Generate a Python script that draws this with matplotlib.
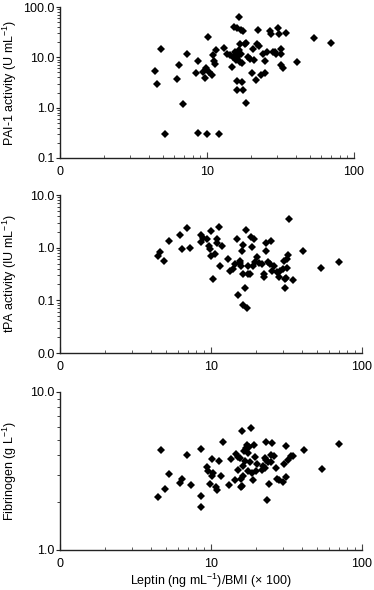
import matplotlib
matplotlib.use('Agg')
import matplotlib.pyplot as plt
from matplotlib.ticker import LogLocator, NullFormatter

plt.rcParams['font.family'] = ['Liberation Sans', 'DejaVu Sans']
plt.rcParams['mathtext.default'] = 'regular'

# Leptin/BMI (x100) vs PAI-1 activity (U/mL)
pai_x = [4.42, 4.58, 4.88, 5.22, 6.21, 6.44, 6.89, 7.26, 8.48, 8.62, 8.62, 9.32, 9.62, 9.77,
         10.0, 10.2, 10.35, 10.8, 10.9, 11.1, 11.3, 11.5, 12.0, 13.0, 13.6, 14.3, 14.8, 15.1,
         15.3, 15.5, 15.9, 16.0, 16.4, 16.0, 16.0, 17.0, 16.5, 16.7, 17.2, 17.4, 17.6, 17.6,
         18.1, 18.4, 18.5, 19.1, 19.5, 20.1, 20.6, 20.8, 21.5, 21.8, 22.3, 22.6, 23.2, 24.1,
         24.7, 25.4, 24.7, 27.0, 27.3, 27.9, 28.9, 29.7, 30.3, 31.1, 32.1, 32.1, 32.1, 32.9,
         34.7, 40.8, 53.5, 69.4, 16.2, 16.8, 15.7, 17.0]
pai_y = [5.3, 3.0, 14.5, 0.30, 3.7, 7.0, 1.2, 11.4, 4.8, 8.4, 0.31, 5.2, 3.9, 6.0,
         0.30, 25.5, 5.0, 4.45, 11.1, 8.4, 7.5, 13.9, 0.30, 15.5, 11.9, 10.9, 6.5, 10.3,
         40.0, 12.9, 9.5, 38.5, 63.0, 3.4, 2.2, 34.6, 13.9, 18.0, 7.6, 3.3, 2.2, 33.0,
         18.0, 1.21, 19.4, 10.3, 9.2, 4.95, 14.5, 8.8, 3.55, 18.8, 35.6, 16.9, 4.4, 11.4,
         8.4, 12.9, 4.95, 33.0, 29.7, 12.5, 12.5, 11.9, 38.5, 29.7, 14.5, 11.6, 7.0, 6.0,
         31.0, 7.9, 24.4, 19.4, 11.0, 7.9, 8.8, 11.6]

# Leptin/BMI vs tPA activity (IU/mL)
tpa_x = [4.44, 4.56, 4.92, 5.31, 6.28, 6.44, 6.95, 7.28, 8.61, 8.61, 8.87, 9.38, 9.63, 9.82,
         10.0, 10.0, 10.3, 10.7, 10.9, 10.9, 11.3, 11.5, 11.9, 13.0, 13.4, 13.9, 14.4, 14.8,
         15.1, 15.5, 15.6, 15.8, 16.0, 16.2, 16.3, 16.4, 16.8, 17.0, 17.3, 17.5, 17.7, 18.0,
         18.4, 18.8, 19.1, 19.4, 19.6, 20.1, 20.7, 21.7, 22.3, 22.6, 23.1, 23.2, 23.9, 24.7,
         24.9, 25.3, 26.0, 27.3, 28.0, 28.7, 29.9, 30.5, 31.0, 31.0, 31.5, 31.8, 31.8, 32.2,
         33.0, 34.9, 40.6, 53.5, 70.0]
tpa_y = [0.71, 0.84, 0.57, 1.35, 1.73, 0.95, 2.39, 0.98, 1.73, 1.28, 1.52, 1.48, 1.09, 0.93,
         2.07, 0.69, 0.25, 0.76, 1.20, 1.45, 2.50, 0.45, 1.06, 0.61, 0.36, 0.39, 0.50, 1.45,
         0.125, 0.52, 0.55, 0.45, 0.87, 1.10, 0.080, 0.32, 0.175, 2.13, 0.071, 0.45, 0.32, 0.31,
         1.57, 1.01, 0.45, 1.48, 0.54, 0.67, 0.52, 0.49, 0.28, 0.32, 1.20, 0.87, 0.53, 0.49,
         1.33, 0.36, 0.45, 0.35, 0.28, 0.36, 0.39, 0.56, 0.25, 0.168, 0.26, 0.615, 0.41, 0.73,
         3.55, 0.24, 0.87, 0.41, 0.54]

# Leptin/BMI vs fibrinogen (g/L)
fib_x = [4.49, 4.66, 4.95, 5.31, 6.25, 6.41, 6.95, 7.32, 8.65, 8.65, 8.61, 9.43, 9.58, 9.82,
         10.1, 10.1, 10.3, 10.8, 11.0, 11.3, 11.6, 12.0, 13.1, 13.5, 14.4, 14.7, 15.2, 15.2,
         15.5, 15.7, 15.8, 16.0, 16.1, 16.2, 16.3, 16.6, 16.7, 17.0, 17.3, 17.5, 17.6, 17.9,
         18.2, 18.4, 18.7, 18.9, 19.2, 19.5, 19.8, 20.3, 21.6, 22.1, 22.7, 22.9, 23.2, 23.3,
         23.5, 24.0, 24.4, 24.9, 25.1, 25.4, 26.0, 27.1, 27.4, 28.2, 30.0, 30.5, 31.3, 31.6,
         32.4, 33.7, 35.0, 41.1, 54.1, 70.8]
fib_y = [2.18, 4.29, 2.45, 3.02, 2.67, 2.81, 3.97, 2.57, 4.35, 2.20, 1.87, 3.34, 3.18, 2.62,
         3.78, 2.95, 3.09, 2.50, 2.39, 3.67, 2.92, 4.82, 2.57, 3.78, 2.78, 4.06, 3.87, 3.22,
         3.80, 2.50, 2.81, 5.63, 2.55, 2.92, 3.38, 4.25, 3.65, 4.41, 4.59, 3.18, 4.12, 4.48,
         3.58, 5.91, 3.09, 2.78, 4.63, 3.87, 3.18, 3.49, 3.22, 3.38, 3.80, 3.28, 4.86, 3.72,
         2.06, 3.58, 2.60, 3.98, 3.63, 4.75, 3.91, 3.30, 2.83, 2.78, 2.70, 3.49, 2.88, 4.57,
         3.72, 3.95, 3.95, 4.27, 3.26, 4.66]

x_ticks = [1, 10, 100]
x_labels = ['0', '10', '100']

panels = [
    (pai_x, pai_y, [0.1, 1, 10, 100], ['0.1', '1.0', '10.0', '100.0'],
     'PAI-1 activity (U mL$^{-1}$)', [60 / 374, 1 - 158 / 590, 294 / 374, 151 / 590], -0.139),
    (tpa_x, tpa_y, [0.01, 0.1, 1, 10], ['0.0', '0.1', '1.0', '10.0'],
     'tPA activity (IU mL$^{-1}$)', [60 / 374, 1 - 353 / 590, 302 / 374, 158 / 590], -0.136),
    (fib_x, fib_y, [1, 10], ['1.0', '10.0'],
     'Fibrinogen (g L$^{-1}$)', [60 / 374, 1 - 550 / 590, 302 / 374, 158 / 590], -0.136),
]

fig = plt.figure(figsize=(3.74, 5.90), dpi=100)

for px, py, yt, yl, ylabel, rect, lab_x in panels:
    ax = fig.add_axes(rect)
    ax.plot(px, py, 'D', color='k', ms=3.7, mew=0, clip_on=False)
    ax.set_xscale('log')
    ax.set_yscale('log')
    ax.set_xlim(1, 100)
    ax.set_ylim(yt[0], yt[-1])
    ax.set_xticks(x_ticks, x_labels)
    ax.set_yticks(yt, yl)
    ax.xaxis.set_minor_locator(LogLocator(base=10, subs=range(2, 10)))
    ax.yaxis.set_minor_locator(LogLocator(base=10, subs=range(2, 10)))
    ax.xaxis.set_minor_formatter(NullFormatter())
    ax.yaxis.set_minor_formatter(NullFormatter())
    for s in ['top', 'right']:
        ax.spines[s].set_visible(False)
    for s in ['left', 'bottom']:
        ax.spines[s].set_linewidth(1.0)
        ax.spines[s].set_color('#222222')
    ax.tick_params(axis='x', which='both', direction='in', labelsize=9, pad=6, color='#444444')
    ax.tick_params(axis='x', which='major', length=4, width=0.8)
    ax.tick_params(axis='x', which='minor', length=2.5, width=0.6)
    ax.tick_params(axis='y', which='both', direction='out', labelsize=9, pad=1, color='#222222')
    ax.tick_params(axis='y', which='major', length=3, width=0.8)
    ax.tick_params(axis='y', which='minor', length=2, width=0.6)
    ax.set_ylabel(ylabel, fontsize=9)
    ax.yaxis.set_label_coords(lab_x, 0.5)

ax.set_xlabel('Leptin (ng mL$^{-1}$)/BMI (\u00d7 100)', fontsize=9, labelpad=1)

fig.savefig('out.png', dpi=100)
